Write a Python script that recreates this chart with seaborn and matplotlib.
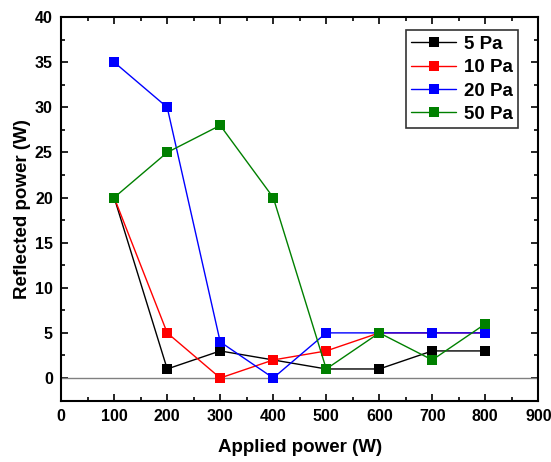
import matplotlib
matplotlib.use("Agg")
import matplotlib.pyplot as plt
import seaborn as sns
import pandas as pd
from matplotlib.ticker import MultipleLocator

applied = [100, 200, 300, 400, 500, 600, 700, 800]
pa5 = [20, 1, 3, 2, 1, 1, 3, 3]
pa10 = [20, 5, 0, 2, 3, 5, 5, 5]
pa20 = [35, 30, 4, 0, 5, 5, 5, 5]
pa50 = [20, 25, 28, 20, 1, 5, 2, 6]
labels = ["5 Pa", "10 Pa", "20 Pa", "50 Pa"]
colors = ["#000000", "#ff0000", "#0000ff", "#008000"]

rows = []
for lab, vals in zip(labels, [pa5, pa10, pa20, pa50]):
    for x, y in zip(applied, vals):
        rows.append({"Applied": x, "Reflected": y, "Pressure": lab})
df = pd.DataFrame(rows)

sns.set_style("ticks")
plt.rcParams["font.family"] = ["Liberation Sans", "DejaVu Sans"]
plt.rcParams["font.weight"] = "bold"
plt.rcParams["text.color"] = "black"
plt.rcParams["axes.labelcolor"] = "black"
plt.rcParams["xtick.color"] = "black"
plt.rcParams["ytick.color"] = "black"

fig = plt.figure(figsize=(5.51, 4.62), dpi=100)
ax = fig.add_axes([0.111, 0.133, 0.866, 0.83])

ax.axhline(0, color="#808080", lw=1, zorder=1)

sns.lineplot(data=df, x="Applied", y="Reflected", hue="Pressure",
             hue_order=labels, palette=colors, marker="s", markersize=6.5,
             markeredgewidth=0, linewidth=1, dashes=False, ax=ax,
             legend=False, estimator=None, sort=False)

ax.set_xlim(0, 900)
ax.set_ylim(-2.5, 40)
ax.xaxis.set_major_locator(MultipleLocator(100))
ax.xaxis.set_minor_locator(MultipleLocator(50))
ax.yaxis.set_major_locator(MultipleLocator(5))
ax.yaxis.set_minor_locator(MultipleLocator(2.5))
ax.tick_params(which="both", direction="in", top=True, right=True,
               labeltop=False, labelright=False, width=1.2, colors="black")
ax.tick_params(which="major", length=5, labelsize=11.5, pad=6)
ax.tick_params(which="minor", length=3)
for lab in ax.get_xticklabels() + ax.get_yticklabels():
    lab.set_fontweight("bold")
for sp in ax.spines.values():
    sp.set_linewidth(1.5)
    sp.set_color("black")

ax.set_xlabel("Applied power (W)", fontsize=13.5, fontweight="bold",
              labelpad=11, color="black")
ax.set_ylabel("Reflected power (W)", fontsize=13.5, fontweight="bold",
              labelpad=3, color="black")

handles = [plt.Line2D([], [], color=c, marker="s", markersize=6.5,
                      markeredgewidth=0, lw=1) for c in colors]
leg = ax.legend(handles, labels, loc="upper right", bbox_to_anchor=(0.958, 0.966),
                frameon=True, fancybox=False, edgecolor="black",
                prop={"weight": "bold", "size": 13.5}, handlelength=2.4,
                borderpad=0.3, labelspacing=0.33, handletextpad=0.4,
                borderaxespad=0)
leg.get_frame().set_linewidth(1.2)
for t in leg.get_texts():
    t.set_color("black")

fig.savefig("out.png", dpi=100)
